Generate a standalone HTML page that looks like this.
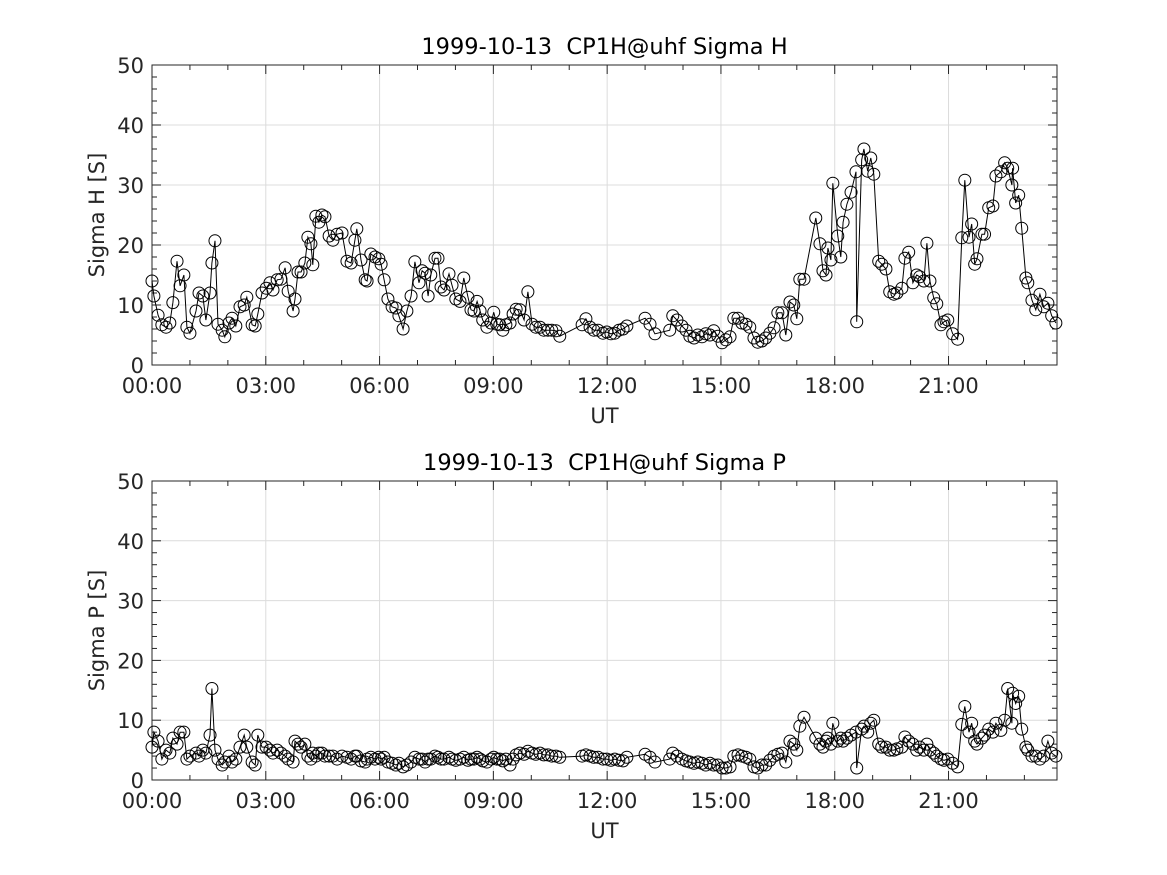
<!DOCTYPE html>
<html><head><meta charset="utf-8"><style>
body{margin:0;background:#fff;}
svg{display:block;font-family:"DejaVu Sans","Liberation Sans",sans-serif;}
</style></head><body>
<svg id="fig" width="1167" height="875" viewBox="0 0 1167 875"></svg>
<script>
const times=[0.00,0.05,0.16,0.26,0.37,0.47,0.55,0.66,0.74,0.84,0.92,1.00,1.16,1.24,1.34,1.42,1.53,1.58,1.66,1.74,1.85,1.92,2.03,2.11,2.21,2.32,2.43,2.50,2.64,2.72,2.79,2.90,3.01,3.11,3.19,3.30,3.40,3.51,3.59,3.72,3.77,3.85,3.93,4.03,4.11,4.19,4.24,4.32,4.40,4.48,4.56,4.67,4.77,4.88,5.01,5.14,5.25,5.35,5.40,5.51,5.62,5.67,5.77,5.88,5.98,6.04,6.12,6.22,6.33,6.43,6.51,6.62,6.72,6.83,6.93,7.04,7.12,7.20,7.28,7.35,7.46,7.54,7.62,7.70,7.83,7.91,8.01,8.12,8.22,8.33,8.41,8.49,8.57,8.65,8.72,8.83,8.94,9.01,9.09,9.17,9.25,9.33,9.44,9.52,9.60,9.70,9.81,9.91,10.02,10.12,10.23,10.33,10.44,10.54,10.65,10.75,
11.34,11.44,11.55,11.65,11.76,11.89,11.99,12.10,12.20,12.31,12.42,12.52,13.00,13.13,13.26,13.65,13.73,13.84,13.97,14.08,14.18,14.29,14.39,14.50,14.60,14.71,14.81,14.92,15.03,15.13,15.24,15.34,15.45,15.55,15.66,15.76,15.87,15.97,16.08,16.18,16.29,16.40,16.50,16.61,16.71,16.82,16.92,17.00,17.08,17.19,17.50,17.61,17.69,17.77,17.82,17.90,17.95,18.08,18.16,18.22,18.32,18.43,18.56,18.58,18.71,18.77,18.87,18.95,19.03,19.16,19.24,19.35,19.45,19.56,19.64,19.77,19.85,19.95,20.06,20.16,20.24,20.35,20.43,20.51,20.61,20.69,20.80,20.88,20.98,21.11,21.24,21.35,21.43,21.54,21.61,21.69,21.75,21.88,21.95,22.06,22.17,22.25,22.38,22.48,22.56,22.67,22.69,22.77,22.85,22.93,23.04,23.09,23.20,23.30,23.41,23.51,23.62,23.72,23.83];
const sigmaH=[14,11.5,8.3,6.7,6.3,7,10.4,17.3,13.2,15,6.3,5.3,9,12,11.5,7.5,12,17,20.7,6.8,5.8,4.7,7,7.8,6.5,9.7,10,11.3,6.7,6.5,8.5,12,12.8,13.7,12.5,14.2,14.3,16.2,12.3,9,11,15.5,15.5,17,21.3,20.2,16.7,24.8,23.8,25,24.7,21.5,20.8,21.8,22,17.3,17,20.8,22.7,17.5,14.2,14,18.5,18,17.7,16.8,14.2,11,9.7,9.5,8.2,6,9,11.5,17.2,13.7,15.7,15.3,11.5,15,17.8,17.8,13,12.5,15.2,13.3,11,10.6,14.5,11.3,9.2,9,10.6,9,7.5,6.3,7,8.8,6.8,6.7,5.8,6.7,7,8.5,9.3,9.2,7.5,12.2,6.8,6.3,6.3,5.8,5.8,5.8,5.7,4.8,
6.7,7.7,6.3,5.8,5.8,5.3,5.5,5.2,5.3,5.8,6,6.5,7.8,6.8,5.2,5.8,8.2,7.5,6.5,5.8,4.8,4.5,5,4.7,5.2,5,5.7,4.8,3.7,4.2,4.7,7.8,7.8,7,6.8,6.3,4.5,3.8,4,4.5,5.3,6.2,8.7,8.7,5,10.5,10,7.7,14.3,14.3,24.5,20.2,15.7,15,19.5,17.5,30.3,21.5,18,23.8,26.8,28.8,32.2,7.2,34.2,36,32.3,34.5,31.8,17.3,16.8,16,12.2,11.8,12,12.8,17.8,18.8,13.7,15,14.7,14,20.3,14,11.2,10.2,6.7,7.2,7.5,5.2,4.3,21.2,30.8,21.3,23.5,16.8,17.7,21.8,21.8,26.2,26.5,31.5,32.2,33.7,32.8,30,32.8,27,28.3,22.8,14.5,13.7,10.8,9.2,11.8,9.7,10.3,8.2,7];
const sigmaP=[5.5,8,6.5,3.5,5,4.5,7,6,8,8,3.5,4,4.5,4,5,4.5,7.5,15.3,5,3.5,2.5,3,4,3,3.5,5.5,7.5,5.5,3,2.5,7.5,5.5,5.5,5,4.5,5,4.5,4,3.5,3,6.5,6,5.5,6,4,3.5,4.5,4,4.5,4.5,4,4,4,3.5,4,3.8,3.5,4,4,3.2,3,3.5,3.8,3.5,3.8,3.5,3.8,3,2.8,2.5,2.8,2.2,2.5,3,3.8,3.5,3.5,3,3.5,3.5,4,3.8,3.5,3.5,3.8,3.5,3.3,3.5,3.8,3.3,3.5,3.5,3.8,3.5,3.2,3,3.5,3.8,3.5,3.5,3.2,3.5,2.5,3.5,4.2,4.5,4.3,4.8,4.5,4.3,4.5,4.2,4.2,4,4,3.8,
4,4.2,4,3.8,3.8,3.5,3.5,3.3,3.5,3.3,3.2,3.8,4.3,3.8,3,3.5,4.5,4,3.5,3.2,3,2.8,3,2.8,2.5,2.8,2.5,2.5,2,2,2.2,4,4.2,4,3.8,3.5,2.2,2,2.5,2.5,3.3,4,4.3,4.5,3,6.5,6,5,9,10.5,7,6,5.5,6.5,7,6,9.5,6.5,7,6.5,7,7.5,8,2,8.5,9,8,9.5,10,6,5.5,5.5,5,5,5.2,5.5,7.2,6.5,6,5,5.5,5,6,5,4.5,4,3.5,3.3,3.5,2.8,2.2,9.3,12.3,8,9.5,6.5,6,7,7.5,8.5,8,9.5,8.3,10,15.3,9.5,14.5,12.8,14,8.5,5.5,5,4,4,3.5,4,6.5,4.5,4];
const xTickLabels=["00:00","03:00","06:00","09:00","12:00","15:00","18:00","21:00"];
const yTickLabels=["0","10","20","30","40","50"];

const NS="http://www.w3.org/2000/svg";
const svg=document.getElementById('fig');
const X0=152,X1=1057,XMAX=23.86;
function el(tag,attrs,parent){const e=document.createElementNS(NS,tag);for(const k in attrs)e.setAttribute(k,attrs[k]);(parent||svg).appendChild(e);return e;}
function drawPanel(top,bottom,title,ylabel,vals,key){
  const g=el('g',{});
  
  
  const xs=h=>X0+(h/XMAX)*(X1-X0);
  const ys=v=>bottom-(v/50)*(bottom-top);
  for(let i=0;i<xTickLabels.length;i++){const x=xs(i*3);
    const l=el('line',{x1:x,x2:x,y1:top,y2:bottom,stroke:'#dcdcdc','stroke-width':1},g);
    }
  for(let i=1;i<yTickLabels.length;i++){const y=ys(i*10);
    const l=el('line',{x1:X0,x2:X1,y1:y,y2:y,stroke:'#dcdcdc','stroke-width':1},g);
    }
  for(let h=0;h<=23;h++){const x=xs(h);const len=(h%3==0)?9:5;
    el('line',{x1:x,x2:x,y1:bottom,y2:bottom-len,stroke:'#262626'},g);
    el('line',{x1:x,x2:x,y1:top,y2:top+len,stroke:'#262626'},g);}
  for(let v=0;v<=50;v+=2){const y=ys(v);const len=(v%10==0)?9:5;
    el('line',{x1:X0,x2:X0+len,y1:y,y2:y,stroke:'#262626'},g);
    el('line',{x1:X1,x2:X1-len,y1:y,y2:y,stroke:'#262626'},g);}
  const box=el('rect',{x:X0,y:top,width:X1-X0,height:bottom-top,fill:'none',stroke:'#262626','stroke-width':1},g);
  
  xTickLabels.forEach((t,i)=>{const tx=el('text',{x:xs(i*3),y:bottom+28,'text-anchor':'middle','font-size':21,fill:'#262626'},g);tx.textContent=t;
    });
  yTickLabels.forEach((t,i)=>{const tx=el('text',{x:X0-8,y:ys(i*10)+8,'text-anchor':'end','font-size':21,fill:'#262626'},g);tx.textContent=t;
    });
  const tt=el('text',{x:(X0+X1)/2,y:top-11,'text-anchor':'middle','font-size':22.5,fill:'#000'},g);tt.textContent=title;
  
  const xl=el('text',{x:(X0+X1)/2,y:bottom+58,'text-anchor':'middle','font-size':21,fill:'#262626'},g);xl.textContent='UT';
  
  const cy=(top+bottom)/2;
  const yl=el('text',{x:104,y:cy,'text-anchor':'middle','font-size':21,fill:'#262626',transform:'rotate(-90 104 '+cy+')'},g);yl.textContent=ylabel;
  
  const pts=times.map((t,i)=>xs(t).toFixed(1)+','+ys(vals[i]).toFixed(1)).join(' ');
  const pl=el('polyline',{points:pts,fill:'none',stroke:'#000','stroke-width':1},g);
  
  times.forEach((t,i)=>{const c=el('circle',{cx:xs(t),cy:ys(vals[i]),r:6,fill:'none',stroke:'#000','stroke-width':1},g);
    });
}
drawPanel(65,365,'1999-10-13\u00a0\u00a0CP1H@uhf Sigma H','Sigma H [S]',sigmaH,'sigma-h');
drawPanel(481,780,'1999-10-13\u00a0\u00a0CP1H@uhf Sigma P','Sigma P [S]',sigmaP,'sigma-p');
</script>
</body></html>
